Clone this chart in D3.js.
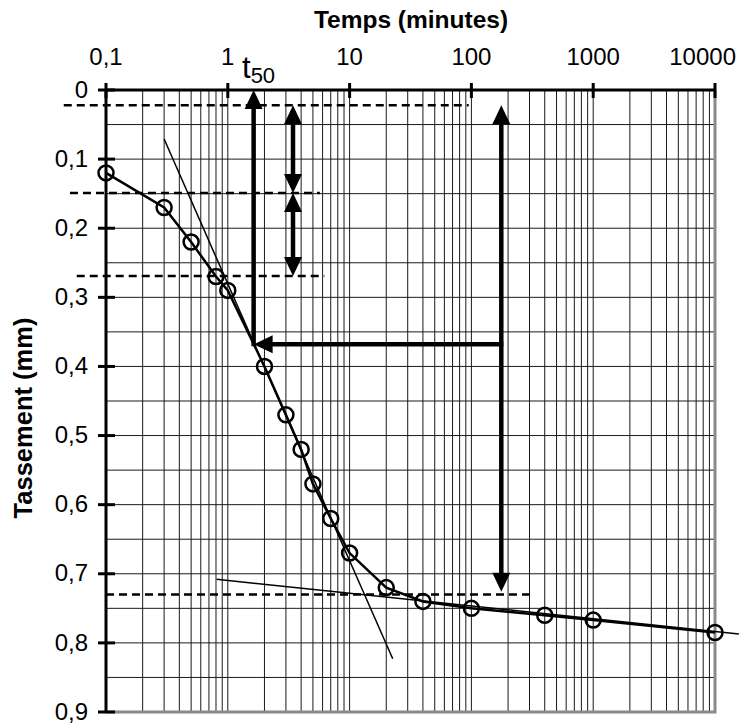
<!DOCTYPE html>
<html>
<head>
<meta charset="utf-8">
<script src="https://cdn.jsdelivr.net/npm/d3@7"></script>
<style>
  body { margin: 0; background: #fff; }
  svg { display: block; font-family: "Liberation Sans", Arial, sans-serif; }
</style>
</head>
<body>
<svg id="chart" width="744" height="724"></svg>
<script>
// measured points (time in minutes, settlement in mm)
const times = [0.1, 0.3, 0.5, 0.8, 1, 2, 3, 4, 5, 7, 10, 20, 40, 100, 400, 1000, 10000];
const settlements = [0.12, 0.17, 0.22, 0.27, 0.29, 0.40, 0.47, 0.52, 0.57, 0.62, 0.67, 0.72, 0.74, 0.75, 0.76, 0.767, 0.785];

const xTickValues = [0.1, 1, 10, 100, 1000, 10000];
const xTickLabels = ["0,1", "1", "10", "100", "1000", "10000"];
const yTickValues = [0, 0.1, 0.2, 0.3, 0.4, 0.5, 0.6, 0.7, 0.8, 0.9];
const yTickLabels = ["0", "0,1", "0,2", "0,3", "0,4", "0,5", "0,6", "0,7", "0,8", "0,9"];

// construction lines (Casagrande)
const primaryTangent = [[0.30, 0.071], [22.6, 0.823]];
const secondaryTangent = [[0.81, 0.708], [15700, 0.787]];
const refLevels = [0.022, 0.149, 0.269, 0.73];
const refStart = [0.045, 0.0506, 0.0575, 0.1];
const refEnd = [95, 5.7, 6.2, 307];

const t50 = 1.63;
const s50 = 0.368;
const tRightArrow = 176;
const d100Tip = 0.726;
const tDoubleArrow = 3.43;

const svg = d3.select("#chart");
const plotLeft = 106, plotRight = 715, plotTop = 90, plotBottom = 712;
const labelMaxRight = 736; // keep top labels inside the picture

const x = d3.scaleLog().domain([0.1, 10000]).range([plotLeft, plotRight]);
const y = d3.scaleLinear().domain([0, 0.9]).range([plotTop, plotBottom]);

// grid
const grid = svg.append("g").attr("class", "grid");
const vLines = [];
for (let p = -1; p < 4; p++) {
  for (let k = 1; k <= 9; k++) vLines.push(k * Math.pow(10, p));
}
grid.selectAll(".v")
  .data(vLines.filter(d => d > 0.1))
  .enter().append("line")
  .attr("x1", d => x(d)).attr("x2", d => x(d))
  .attr("y1", plotTop).attr("y2", plotBottom)
  .attr("stroke", "#1a1a1a").attr("stroke-width", 1);

grid.selectAll(".h")
  .data(d3.range(1, 18).map(i => i * 0.05))
  .enter().append("line")
  .attr("x1", plotLeft).attr("x2", plotRight)
  .attr("y1", d => y(d)).attr("y2", d => y(d))
  .attr("stroke", "#1a1a1a").attr("stroke-width", 1);

// right and bottom frame (gray)
svg.append("path")
  .attr("d", `M${plotLeft},${plotBottom}H${plotRight}V${plotTop}`)
  .attr("fill", "none").attr("stroke", "#8a8a8a").attr("stroke-width", 3);

// axes
svg.append("line")
  .attr("x1", plotLeft).attr("x2", plotRight).attr("y1", plotTop).attr("y2", plotTop)
  .attr("stroke", "#000").attr("stroke-width", 3);
svg.append("line")
  .attr("x1", plotLeft).attr("x2", plotLeft).attr("y1", plotTop).attr("y2", plotBottom)
  .attr("stroke", "#000").attr("stroke-width", 3);

svg.selectAll(".xtick")
  .data(xTickValues)
  .enter().append("line")
  .attr("x1", d => x(d)).attr("x2", d => x(d))
  .attr("y1", plotTop - 7).attr("y2", plotTop + 8)
  .attr("stroke", "#000").attr("stroke-width", 3);

svg.selectAll(".xlabel")
  .data(xTickValues)
  .enter().append("text")
  .attr("x", d => x(d)).attr("y", 65)
  .attr("text-anchor", "middle")
  .style("font-size", "24px")
  .text((d, i) => xTickLabels[i])
  .each(function(d) {
    const w = this.getComputedTextLength();
    const cx = Math.min(x(d), labelMaxRight - w / 2);
    d3.select(this).attr("x", cx);
  });

svg.selectAll(".ytick")
  .data(yTickValues)
  .enter().append("line")
  .attr("x1", plotLeft - 8).attr("x2", plotLeft + 9)
  .attr("y1", d => y(d)).attr("y2", d => y(d))
  .attr("stroke", "#000").attr("stroke-width", 3);

svg.selectAll(".ylabel")
  .data(yTickValues)
  .enter().append("text")
  .attr("x", 88).attr("y", d => y(d))
  .attr("dy", "0.32em")
  .attr("text-anchor", "end")
  .style("font-size", "24px")
  .text((d, i) => yTickLabels[i]);

// axis titles
svg.append("text")
  .attr("x", 411).attr("y", 28)
  .attr("text-anchor", "middle")
  .style("font-size", "24.5px").style("font-weight", "bold")
  .text("Temps (minutes)");

svg.append("text")
  .attr("transform", "translate(32,418) rotate(-90)")
  .attr("text-anchor", "middle")
  .style("font-size", "25.5px").style("font-weight", "bold")
  .text("Tassement (mm)");

// dashed reference levels
svg.selectAll(".ref")
  .data(refLevels)
  .enter().append("line")
  .attr("x1", (d, i) => x(refStart[i])).attr("x2", (d, i) => x(refEnd[i]))
  .attr("y1", d => y(d)).attr("y2", d => y(d))
  .attr("stroke", "#000").attr("stroke-width", 2.5)
  .attr("stroke-dasharray", "8,5");

// tangents
const lineGen = d3.line().x(d => x(d[0])).y(d => y(d[1]));
[primaryTangent, secondaryTangent].forEach(seg => {
  svg.append("path")
    .attr("d", lineGen(seg))
    .attr("fill", "none").attr("stroke", "#000").attr("stroke-width", 1.5);
});

// arrows
function arrowHead(px, py, dir) {
  const L = 19, W = 9;
  let pts;
  if (dir === "up") pts = [[px, py], [px - W, py + L], [px + W, py + L]];
  if (dir === "down") pts = [[px, py], [px - W, py - L], [px + W, py - L]];
  if (dir === "left") pts = [[px, py], [px + L, py - W], [px + L, py + W]];
  svg.append("polygon")
    .attr("points", pts.map(p => p.join(",")).join(" "))
    .attr("fill", "#000");
}
function shaft(x1, y1, x2, y2) {
  svg.append("line")
    .attr("x1", x1).attr("y1", y1).attr("x2", x2).attr("y2", y2)
    .attr("stroke", "#000").attr("stroke-width", 4.5);
}

// t50 vertical arrow
shaft(x(t50), y(s50) + 2, x(t50), y(0) + 15);
arrowHead(x(t50), y(0), "up");

// horizontal arrow to the curve
shaft(x(tRightArrow) + 2, y(s50), x(t50) + 15, y(s50));
arrowHead(x(t50), y(s50), "left");

// right vertical double arrow (d0 to d100)
shaft(x(tRightArrow), y(refLevels[0]) + 15, x(tRightArrow), y(d100Tip) - 15);
arrowHead(x(tRightArrow), y(refLevels[0]), "up");
arrowHead(x(tRightArrow), y(d100Tip), "down");

// two small double arrows
[[refLevels[0], refLevels[1]], [refLevels[1], refLevels[2]]].forEach(([a, b]) => {
  const xa = x(tDoubleArrow);
  shaft(xa, y(a) + 15, xa, y(b) - 15);
  arrowHead(xa, y(a), "up");
  arrowHead(xa, y(b), "down");
});

// consolidation curve
const pts = times.map((t, i) => [t, settlements[i]]);
svg.append("path")
  .attr("d", lineGen(pts))
  .attr("fill", "none").attr("stroke", "#000").attr("stroke-width", 2.5);

svg.selectAll(".pt")
  .data(pts)
  .enter().append("circle")
  .attr("cx", d => x(d[0])).attr("cy", d => y(d[1]))
  .attr("r", 7.5)
  .attr("fill", "none").attr("stroke", "#000").attr("stroke-width", 2.5);

// t50 label
const lbl = svg.append("text").attr("x", 242).attr("y", 78).style("font-size", "31px");
lbl.append("tspan").text("t");
lbl.append("tspan").attr("dy", 5).style("font-size", "22px").text("50");
</script>
</body>
</html>
